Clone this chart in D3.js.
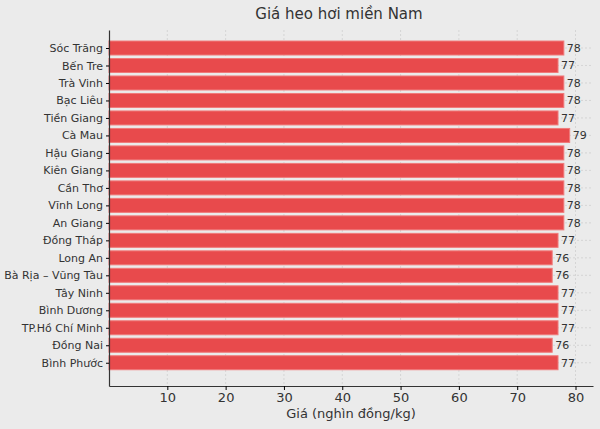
<!DOCTYPE html><html><head><meta charset="utf-8"><script src="https://cdn.jsdelivr.net/npm/d3@7"></script>
<style>body{margin:0;background:#ebebeb}</style></head><body><svg id="c" width="600" height="429"></svg><script>
const categories=["Sóc Trăng","Bến Tre","Trà Vinh","Bạc Liêu","Tiền Giang","Cà Mau","Hậu Giang","Kiên Giang","Cần Thơ","Vĩnh Long","An Giang","Đồng Tháp","Long An","Bà Rịa – Vũng Tàu","Tây Ninh","Bình Dương","TP.Hồ Chí Minh","Đồng Nai","Bình Phước"];
const values=[78,77,78,78,77,79,78,78,78,78,78,77,76,76,77,77,77,76,77];
const xTicks=[10,20,30,40,50,60,70,80];
const svg=d3.select("#c"),F="DejaVu Sans";
svg.append("rect").attr("width",600).attr("height",429).attr("fill","#ebebeb");
const L=109,R=593,T=30,B=386;
const x=d3.scaleLinear().domain([0,83]).range([L,R]);
const y=d3.scaleLinear().domain([-1.03,19.33]).range([T,B]);
const g=svg.append("g");
xTicks.forEach(t=>g.append("line").attr("x1",x(t)).attr("x2",x(t)).attr("y1",T).attr("y2",B).attr("stroke","#cfcfcf").attr("stroke-dasharray","2,2").attr("stroke-width",0.8));
categories.forEach((c,i)=>g.append("line").attr("x1",L).attr("x2",R).attr("y1",y(i)).attr("y2",y(i)).attr("stroke","#cfcfcf").attr("stroke-dasharray","2,2").attr("stroke-width",0.8));
g.selectAll(".b").data(values).join("rect").attr("x",x(0)).attr("y",(d,i)=>y(i-0.4)).attr("width",d=>x(d)-x(0)).attr("height",y(0.8)-y(0))
 .attr("fill","#e84a4c").attr("stroke","#f07a7a").attr("stroke-width",1);
g.selectAll(".v").data(values).join("text").attr("x",d=>x(d)+3).attr("y",(d,i)=>y(i)+4).text(d=>d).attr("font-family",F).attr("font-size",11).attr("fill","#333");
const xa=svg.append("g").attr("transform",`translate(0,${B})`).call(d3.axisBottom(x).tickValues(xTicks).tickSize(4).tickSizeOuter(0));
xa.select(".domain").attr("stroke","#333").attr("stroke-width",1.2);
xa.selectAll("text").attr("font-family",F).attr("font-size",13).attr("fill","#333");
const ya=svg.append("g").attr("transform",`translate(${L},0)`).call(d3.axisLeft(y).tickValues(d3.range(categories.length)).tickFormat(i=>categories[i]).tickSize(3).tickSizeOuter(0));
ya.select(".domain").attr("stroke","#333").attr("stroke-width",1.2);
ya.selectAll("text").attr("font-family",F).attr("font-size",11).attr("fill","#333");
svg.append("text").attr("x",(L+R)/2-12).attr("y",19).attr("text-anchor","middle").text("Giá heo hơi miền Nam").attr("font-family",F).attr("font-size",15).attr("fill","#333");
svg.append("text").attr("x",(L+R)/2).attr("y",418).attr("text-anchor","middle").text("Giá (nghìn đồng/kg)").attr("font-family",F).attr("font-size",13).attr("fill","#333");
</script></body></html>
